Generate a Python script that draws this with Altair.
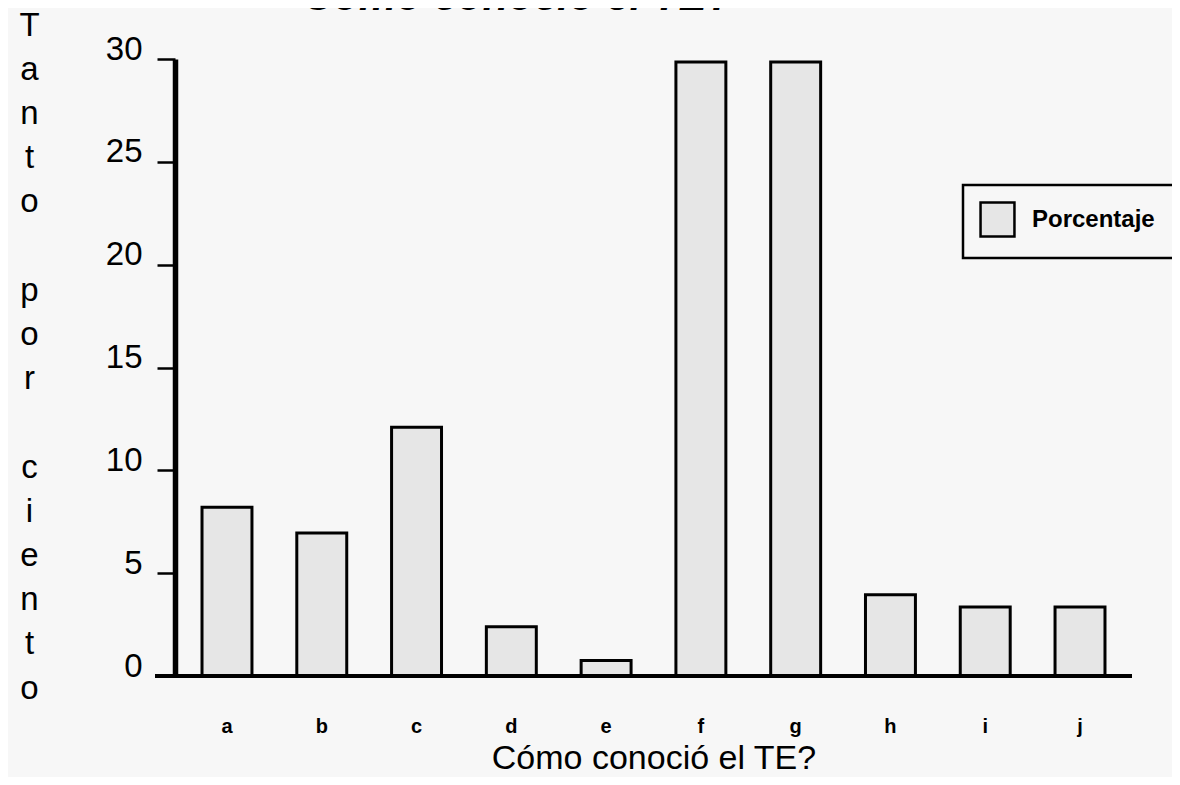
import altair as alt
import pandas as pd

categories = ["a", "b", "c", "d", "e", "f", "g", "h", "i", "j"]
values = [8.2, 6.95, 12.1, 2.4, 0.75, 29.85, 29.85, 3.95, 3.35, 3.35]
series = ["Porcentaje"] * len(categories)
y_ticks = [0, 5, 10, 15, 20, 25, 30]
title_text = "Cómo conoció el TE?"
x_title = "Cómo conoció el TE?"
BLANK = "\u200b"
y_title_lines = ["T", "a", "n", "t", "o", BLANK, "p", "o", "r", BLANK, "c", "i", "e", "n", "t", "o"]

FONT = "Liberation Sans"
W, H = 957, 617
PAD = "\u2800" * 6

df = pd.DataFrame({"cat": categories, "val": values, "serie": series})

bars = alt.Chart(df).mark_bar(stroke="black", strokeWidth=3, opacity=1).encode(
    x=alt.X(
        "cat:N",
        sort=categories,
        scale=alt.Scale(paddingInner=0.473, paddingOuter=0.285),
        axis=alt.Axis(
            title=x_title,
            titleFont=FONT,
            titleFontSize=34,
            titleFontWeight="normal",
            titleColor="black",
            titlePadding=5,
            labelFont=FONT,
            labelFontSize=20,
            labelFontWeight="bold",
            labelColor="black",
            labelPadding=40,
            labelAngle=0,
            ticks=False,
            domain=False,
        ),
    ),
    y=alt.Y(
        "val:Q",
        scale=alt.Scale(domain=[0, 30], nice=False),
        axis=alt.Axis(
            values=y_ticks,
            title=y_title_lines,
            titleAngle=0,
            titleFont=FONT,
            titleFontSize=33,
            titleFontWeight="normal",
            titleColor="black",
            titleAlign="center",
            titleBaseline="top",
            titleLineHeight=44.2,
            titleX=-146,
            titleY=-50,
            labelFont=FONT,
            labelFontSize=33,
            labelColor="black",
            labelBaseline="alphabetic",
            labelPadding=15,
            tickSize=18,
            tickWidth=2.5,
            tickColor="black",
            domainColor="black",
            domainWidth=5.5,
            grid=False,
        ),
    ),
    color=alt.Color(
        "serie:N",
        scale=alt.Scale(range=["#e6e6e6"]),
        legend=alt.Legend(
            title=None,
            orient="none",
            legendX=788,
            legendY=126,
            symbolType="square",
            symbolSize=1150,
            symbolStrokeColor="black",
            symbolStrokeWidth=2.5,
            symbolOpacity=1,
            labelFont=FONT,
            labelFontSize=24,
            labelFontWeight="bold",
            labelColor="black",
            labelOffset=16,
            labelExpr="datum.label + '" + PAD + "'",
            labelLimit=600,
            padding=16,
            strokeColor="black",
        ),
    ),
)

xline = alt.Chart(pd.DataFrame({"z": [0]})).mark_rule(color="black", strokeWidth=4).encode(
    y=alt.Y("z:Q"),
    x=alt.value(-20),
    x2=alt.value(W),
)

title_layer = alt.Chart(pd.DataFrame({"t": [title_text]})).mark_text(
    align="left",
    baseline="alphabetic",
    font=FONT,
    fontSize=42,
    fontStyle="italic",
    fontWeight="bold",
    color="black",
).encode(text="t:N", x=alt.value(128), y=alt.value(-49))

chart = (
    alt.layer(bars, xline, title_layer)
    .properties(
        width=W,
        height=H,
        autosize=alt.AutoSizeParams(type="none"),
        padding={"left": 167, "top": 51, "right": 40, "bottom": 101},
        background="#f7f7f7",
    )
    .configure_view(stroke=None)
    .configure_legend(strokeWidth=2.5)
)

chart.save("out.html", embed_options={"renderer": "svg", "actions": False})
